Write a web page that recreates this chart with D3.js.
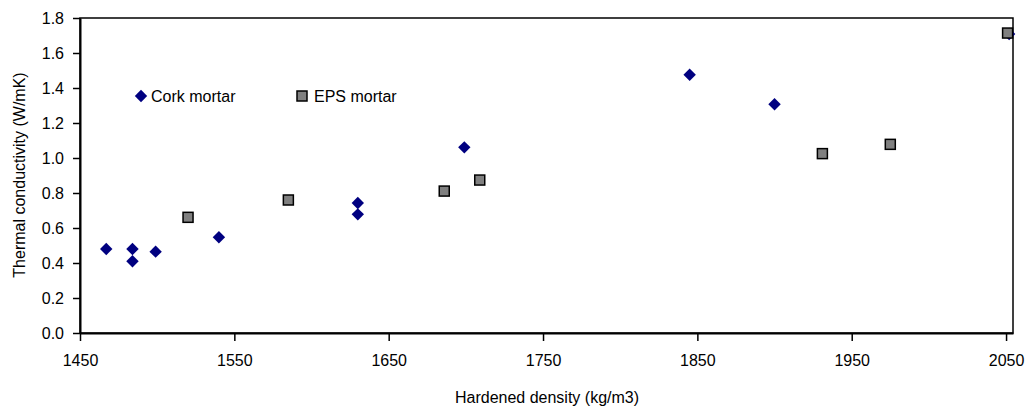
<!DOCTYPE html>
<html>
<head>
<meta charset="utf-8">
<script src="https://cdn.jsdelivr.net/npm/d3@7"></script>
<style>
  html, body { margin: 0; padding: 0; background: #fff; }
  svg { display: block; font-family: "Liberation Sans", Arial, sans-serif; }
</style>
</head>
<body>
<svg id="chart" width="1027" height="412"></svg>
<script>
// Data
const corkDensity = [1467, 1484, 1484, 1499, 1540, 1630, 1630, 1699, 1845, 1900, 2052];
const corkConductivity = [0.48, 0.48, 0.41, 0.465, 0.547, 0.743, 0.678, 1.061, 1.476, 1.307, 1.709];
const epsDensity = [1520, 1585, 1686, 1709, 1931, 1975, 2051];
const epsConductivity = [0.661, 0.76, 0.811, 0.874, 1.025, 1.078, 1.714];
const xTicks = [1450, 1550, 1650, 1750, 1850, 1950, 2050];
const yTicks = [0, 0.2, 0.4, 0.6, 0.8, 1.0, 1.2, 1.4, 1.6, 1.8];
const seriesNames = ["Cork mortar", "EPS mortar"];

const svg = d3.select("#chart");
const mLeft = 80, mRight = 1013, mTop = 18, mBottom = 333;

const x = d3.scaleLinear().domain([1450, 2054.5]).range([mLeft, mRight]);
const y = d3.scaleLinear().domain([0, 1.8]).range([mBottom, mTop]);

// Frame (top/right)
svg.append("rect")
  .attr("x", mLeft).attr("y", mTop)
  .attr("width", mRight - mLeft).attr("height", mBottom - mTop)
  .attr("fill", "none").attr("stroke", "#000").attr("stroke-width", 1.5);

// Axes
const xAxis = svg.append("g").attr("transform", `translate(0,${mBottom})`)
  .call(d3.axisBottom(x).tickValues(xTicks).tickSize(8).tickSizeOuter(0).tickFormat(d3.format("d")));
const yAxis = svg.append("g").attr("transform", `translate(${mLeft},0)`)
  .call(d3.axisLeft(y).tickValues(yTicks).tickSize(7).tickSizeOuter(0).tickFormat(d3.format(".1f")));

[xAxis, yAxis].forEach(g => {
  g.select(".domain").attr("stroke", "#000").attr("stroke-width", 2);
  g.selectAll(".tick line").attr("stroke", "#000").attr("stroke-width", 1.5);
  g.selectAll(".tick text").attr("fill", "#000").attr("font-size", 16)
    .attr("font-family", "Liberation Sans, Arial, sans-serif");
});
xAxis.selectAll(".tick text").attr("y", 22).attr("dy", "0.71em");
yAxis.selectAll(".tick text").attr("x", -16);

// Axis titles
svg.append("text")
  .attr("x", 547).attr("y", 403)
  .attr("text-anchor", "middle").attr("font-size", 16).attr("fill", "#000")
  .text("Hardened density (kg/m3)");
svg.append("text")
  .attr("transform", "translate(25,175) rotate(-90)")
  .attr("text-anchor", "middle").attr("font-size", 16).attr("fill", "#000")
  .text("Thermal conductivity (W/mK)");

const diamond = s => `M0,${-s}L${s},0L0,${s}L${-s},0Z`;

// Cork mortar
svg.append("g").selectAll("path")
  .data(corkDensity.map((d, i) => [d, corkConductivity[i]]))
  .join("path")
  .attr("transform", d => `translate(${x(d[0])},${y(d[1])})`)
  .attr("d", diamond(6.2))
  .attr("fill", "#000080");

// EPS mortar
svg.append("g").selectAll("rect")
  .data(epsDensity.map((d, i) => [d, epsConductivity[i]]))
  .join("rect")
  .attr("x", d => x(d[0]) - 5).attr("y", d => y(d[1]) - 5)
  .attr("width", 10).attr("height", 10)
  .attr("fill", "#808080").attr("stroke", "#000").attr("stroke-width", 1.5);

// Legend
const lg = svg.append("g");
lg.append("path").attr("transform", "translate(141,96)").attr("d", diamond(6.2)).attr("fill", "#000080");
lg.append("text").attr("x", 151).attr("y", 102).attr("font-size", 16).attr("fill", "#000").text(seriesNames[0]);
lg.append("rect").attr("x", 297).attr("y", 91).attr("width", 10).attr("height", 10)
  .attr("fill", "#808080").attr("stroke", "#000").attr("stroke-width", 1.5);
lg.append("text").attr("x", 314).attr("y", 102).attr("font-size", 16).attr("fill", "#000").text(seriesNames[1]);
</script>
</body>
</html>
